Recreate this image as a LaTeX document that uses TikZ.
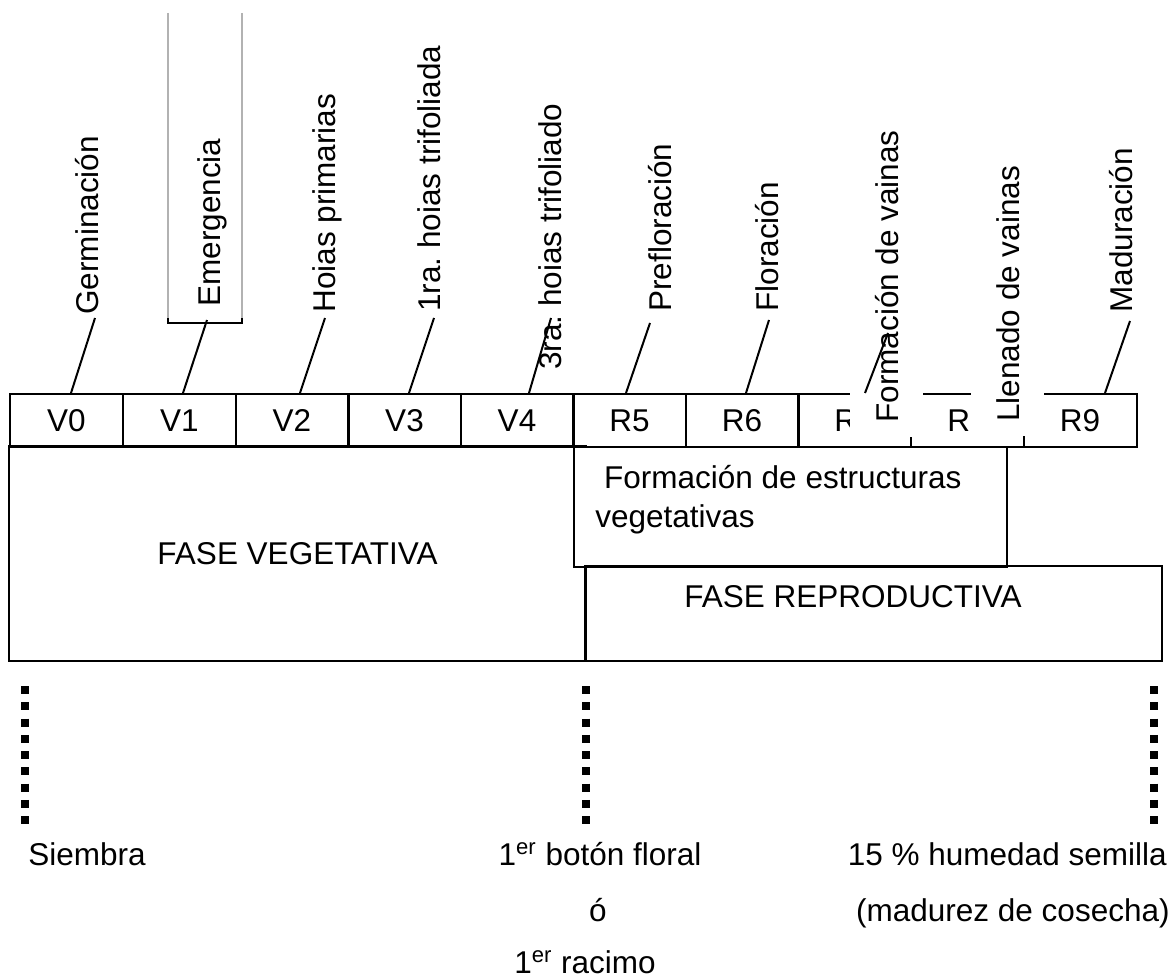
\documentclass[tikz,border=0pt]{standalone}
\usepackage{fontspec}
\setmainfont{Liberation Sans}
\frenchspacing
\tikzset{
  stage/.style={draw, line width=1pt, minimum width=56.5pt, minimum height=26.5pt, inner sep=0pt},
  phase/.style={draw, line width=1pt, inner sep=0pt},
  stagelabel/.style={rotate=90, anchor=base west, inner sep=0pt},
  masklabel/.style={stagelabel, fill=white, inner xsep=7pt, inner ysep=12.5pt},
  leader/.style={line width=1pt},
  milestone/.style={line width=4pt, dash pattern=on 4pt off 4.125pt},
  note/.style={inner sep=0pt}
}
\begin{document}
\begin{tikzpicture}[x=0.5pt, y=-0.5pt, font=\fontsize{15.75}{19.5}\selectfont]
    \useasboundingbox (0,0) rectangle (1173,979);
    % etapas
    \foreach \n/\x in {V0/66.5,V1/179.5,V2/292,V3/404.5,V4/517,R5/629.5,R6/742,R7/854.5,R8/967.5,R9/1080}
        \node[stage] (\n) at (\x,420.5) {\n};
    % recuadro de Emergencia
    \draw[gray!60, line width=0.6pt] (168,13) -- (168,323) (242,13) -- (242,323);
    \draw[line width=1pt] (168,318) -- (168,323) -- (242,323) -- (242,318);
    % nombres de las etapas
    \node[stagelabel] (lV0) at (98,315) {Germinación};
    \node[stagelabel] (lV1) at (220,307) {Emergencia};
    \node[stagelabel] (lV2) at (335,313) {Hoias primarias};
    \node[stagelabel] (lV3) at (440,312) {1ra. hoias trifoliada};
    \node[stagelabel] (lV4) at (561,370) {3ra. hoias trifoliado};
    \node[stagelabel] (lR5) at (671,312) {Prefloración};
    \node[stagelabel] (lR6) at (778,312) {Floración};
    \node[masklabel] (lR7) at (898,437) {Formación de vainas};
    \node[masklabel] (lR8) at (1019,436) {Llenado de vainas};
    \node[stagelabel] (lR9) at (1132,313) {Maduración};
    \foreach \s/\fx/\tx/\ty in {V0/71/95/318, V1/183/207/320, V2/300/325/318, V3/409/434/318, V4/529/551/318,
                                R5/626/650/323, R6/746/769/320, R7/865/888/333, R9/1105/1130/321}
    {
        \coordinate (top\s) at (\tx,\ty);
        \draw[leader] (\s.north -| \fx,0) -- (top\s);
    }
    % fases
    \node[phase, minimum width=288.5pt, minimum height=107.5pt] (veg) at (297.5,553.5) {FASE VEGETATIVA};
    \node[phase, fill=white, minimum width=216.5pt, minimum height=60pt] (estr) at (790.5,507) {};
    \node[note, anchor=north west, align=left] (estrtxt) at (595,465) {\hspace*{0.28em}Formación de estructuras\\vegetativas};
    \node[phase, minimum width=288.5pt, minimum height=47.5pt] (repro) at (873.5,613.5) {};
    \node (reprotxt) at (853,597) {FASE REPRODUCTIVA};
    % momentos
    \draw[milestone] (25,686) -- (25,824);
    \draw[milestone] (586,686) -- (586,824);
    \draw[milestone] (1154,686) -- (1154,824);
    \node[note, anchor=base west] (siembra) at (28,865) {Siembra};
    \node[note, anchor=base] (boton) at (600,865) {1\textsuperscript{er} botón floral};
    \node[note, anchor=base] (o) at (598,921) {ó};
    \node[note, anchor=base] (racimo) at (585,973) {1\textsuperscript{er} racimo};
    \node[note, anchor=base east] (humedad) at (1167,865) {15 \% humedad semilla};
    \node[note, anchor=base east] (madurez) at (1170,921) {(madurez de cosecha)};
\end{tikzpicture}
\end{document}
